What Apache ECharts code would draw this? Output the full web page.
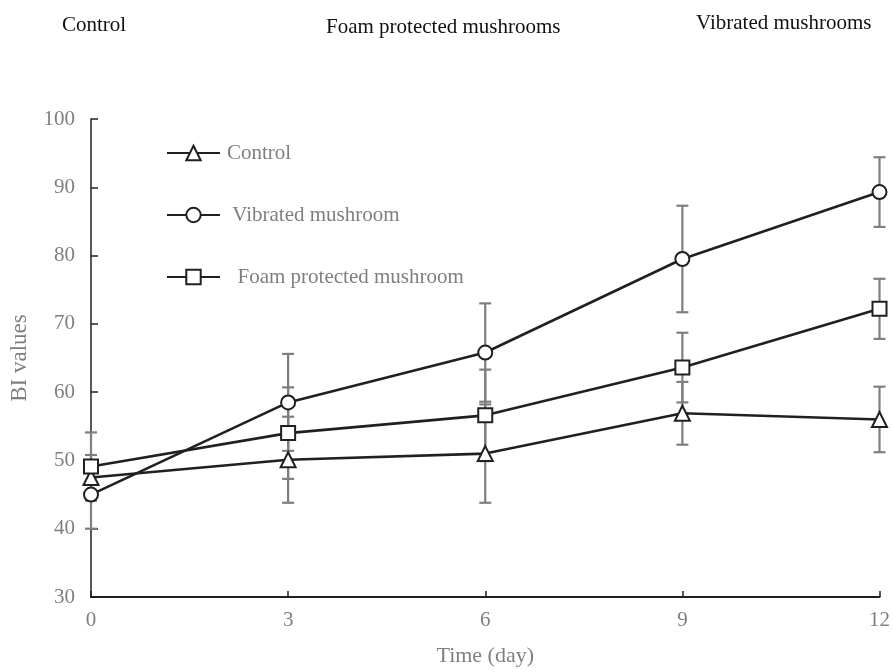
<!DOCTYPE html>
<html>
<head>
<meta charset="utf-8">
<script src="https://cdn.jsdelivr.net/npm/echarts@6/dist/echarts.min.js"></script>
<style>
html,body{margin:0;padding:0;background:#fff;}
#chart{width:893px;height:672px;}
</style>
</head>
<body>
<div id="chart"></div>
<script>
var days = [0, 3, 6, 9, 12];
var seriesNames = ['Control', 'Vibrated mushroom', 'Foam protected mushroom'];
var controlValues = [47.5, 50.1, 51.0, 56.9, 56.0];
var controlErrors = [3.3, 6.3, 7.2, 4.6, 4.8];
var vibratedValues = [45.0, 58.5, 65.8, 79.5, 89.3];
var vibratedErrors = [5.0, 7.1, 7.2, 7.8, 5.1];
var foamValues = [49.1, 54.0, 56.6, 63.6, 72.2];
var foamErrors = [5.0, 6.7, 6.7, 5.1, 4.4];
var yTicks = [30, 40, 50, 60, 70, 80, 90, 100];
var xTicks = [0, 3, 6, 9, 12];
var topLabels = ['Control', 'Foam protected mushrooms', 'Vibrated mushrooms'];

var FONT = '"Liberation Serif", "DejaVu Serif", serif';
var LINE = '#231f20';
var GRAY = '#7f7f7f';

function pts(vals) { return days.map(function (d, i) { return [d, vals[i]]; }); }
function errs(vals, e) { return days.map(function (d, i) { return [d, vals[i] - e[i], vals[i] + e[i]]; }); }

function errorSeries(data) {
  return {
    type: 'custom',
    silent: true,
    z: 1,
    renderItem: function (params, api) {
      var x = api.value(0);
      var lo = api.coord([x, api.value(1)]);
      var hi = api.coord([x, api.value(2)]);
      var w = 6;
      var st = { stroke: GRAY, lineWidth: 2.2 };
      return {
        type: 'group',
        children: [
          { type: 'line', shape: { x1: hi[0], y1: hi[1], x2: lo[0], y2: lo[1] }, style: st },
          { type: 'line', shape: { x1: hi[0] - w, y1: hi[1], x2: hi[0] + w, y2: hi[1] }, style: st },
          { type: 'line', shape: { x1: lo[0] - w, y1: lo[1], x2: lo[0] + w, y2: lo[1] }, style: st }
        ]
      };
    },
    encode: { x: 0, y: [1, 2] },
    data: data
  };
}

function lineSeries(name, vals, symbol, size) {
  return {
    name: name,
    type: 'line',
    z: 3,
    data: pts(vals),
    symbol: symbol,
    symbolSize: size,
    lineStyle: { color: LINE, width: 2.6 },
    itemStyle: { color: '#fff', borderColor: LINE, borderWidth: 2 },
    emphasis: { disabled: true }
  };
}

var chart = echarts.init(document.getElementById('chart'));
var topX = [62, 326, 696];
var topY = [15, 17, 13];
chart.setOption({
  animation: false,
  title: topLabels.map(function (t, i) {
    return {
      text: t, left: topX[i], top: topY[i], padding: 0,
      textStyle: { fontFamily: FONT, fontWeight: 'normal', fontSize: 21, color: '#111' }
    };
  }),
  legend: {
    orient: 'vertical',
    left: 166,
    top: 142,
    padding: 0,
    itemWidth: 53,
    itemHeight: 18,
    itemGap: 40,
    data: seriesNames,
    formatter: function (n) {
      if (n === seriesNames[1]) return ' ' + n;
      if (n === seriesNames[2]) return '  ' + n;
      return n;
    },
    textStyle: { fontFamily: FONT, fontSize: 21, color: GRAY, lineHeight: 22, padding: [0, 0, 0, 2] }
  },
  grid: { left: 91, right: 13, top: 119, bottom: 70, containLabel: false },
  xAxis: {
    type: 'value', min: 0, max: 12, interval: 3,
    name: 'Time (day)', nameLocation: 'middle', nameGap: 48,
    nameTextStyle: { fontFamily: FONT, fontSize: 22, color: GRAY },
    axisLine: { lineStyle: { color: LINE, width: 2.2 } },
    axisTick: { inside: true, length: 6, lineStyle: { color: LINE, width: 1.5 } },
    axisLabel: { fontFamily: FONT, fontSize: 21, color: GRAY, margin: 13 },
    splitLine: { show: false }
  },
  yAxis: {
    type: 'value', min: 30, max: 100, interval: 10,
    name: 'BI values', nameLocation: 'middle', nameGap: 60,
    nameTextStyle: { fontFamily: FONT, fontSize: 23, color: GRAY },
    axisLine: { show: true, lineStyle: { color: LINE, width: 1.5 } },
    axisTick: { show: true, inside: true, length: 7, lineStyle: { color: LINE, width: 1.5 } },
    axisLabel: { fontFamily: FONT, fontSize: 21, color: GRAY, margin: 16 },
    splitLine: { show: false }
  },
  series: [
    errorSeries(errs(controlValues, controlErrors)),
    errorSeries(errs(vibratedValues, vibratedErrors)),
    errorSeries(errs(foamValues, foamErrors)),
    lineSeries(seriesNames[0], controlValues, 'triangle', 15),
    lineSeries(seriesNames[1], vibratedValues, 'circle', 14),
    lineSeries(seriesNames[2], foamValues, 'rect', 14)
  ]
});
</script>
</body>
</html>
